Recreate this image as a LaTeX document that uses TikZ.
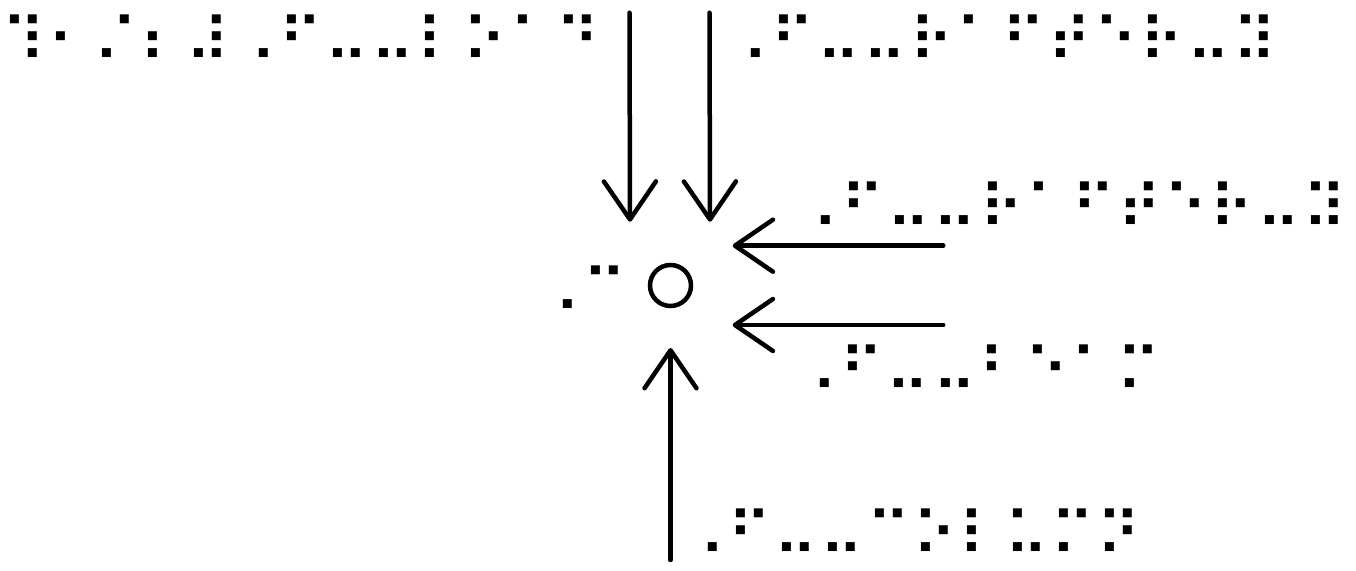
\documentclass[tikz,border=0pt]{standalone}
\usepackage{fontspec}
\newfontfamily\brlfont{DejaVu Sans}
\usetikzlibrary{arrows.meta}
\makeatletter
\def\brlcells#1{\brl@loop#1\relax}
\def\brl@loop#1{\ifx#1\relax\else\makebox[23.1pt][l]{#1}\expandafter\brl@loop\fi}
\makeatother
\begin{document}
\begin{tikzpicture}[x=0.5pt,y=-0.5pt,
  brl/.style={font=\brlfont\fontsize{30.5}{30.5}\selectfont, inner sep=0pt, anchor=base west},
  force/.style={line width=2.25pt, line cap=round, line join=round,
    -{Straight Barb[length=19pt,width=26pt,round]}},
  ring/.style={circle, draw, line width=2.25pt, minimum size=20.5pt, inner sep=0pt}]
\useasboundingbox (0,0) rectangle (1356,571);
% point C
\node[ring] (C) at (670.5,285.5) {};
\node[brl] (lc) at (536,314) {\brlcells{⠠⠉}};
% labels
\node[brl] (l1) at (0.8,63) {\brlcells{⠹⠂⠌⠆⠼⠠⠋⠤⠤⠇⠕⠁⠙}};
\node[brl] (l2) at (724,63) {\brlcells{⠠⠋⠤⠤⠗⠁⠋⠞⠑⠗⠤⠽}};
\node[brl] (l3) at (794,230) {\brlcells{⠠⠋⠤⠤⠗⠁⠋⠞⠑⠗⠤⠽}};
\node[brl] (l4) at (793.2,393) {\brlcells{⠠⠋⠤⠤⠃⠑⠁⠍}};
\node[brl] (l5) at (681,557) {\brlcells{⠠⠋⠤⠤⠉⠕⠇⠥⠍⠝}};
% arrow ends
\coordinate (a1s) at (629.5,12.7);
\coordinate (a1e) at (630,221.7);
\coordinate (a2s) at (709.5,12.7);
\coordinate (a2e) at (710,221.7);
\coordinate (a3s) at (943.3,245.7);
\coordinate (a3e) at (732.7,245.7);
\coordinate (a4s) at (943.3,325);
\coordinate (a4e) at (732.7,325);
\coordinate (a5s) at (670.5,560);
\coordinate (a5e) at (670.5,348);
\draw[force] (a1s) -- (a1e);
\draw[force] (a2s) -- (a2e);
\draw[force] (a3s) -- (a3e);
\draw[force] (a4s) -- (a4e);
\draw[force] (a5s) -- (a5e);
\end{tikzpicture}
\end{document}
